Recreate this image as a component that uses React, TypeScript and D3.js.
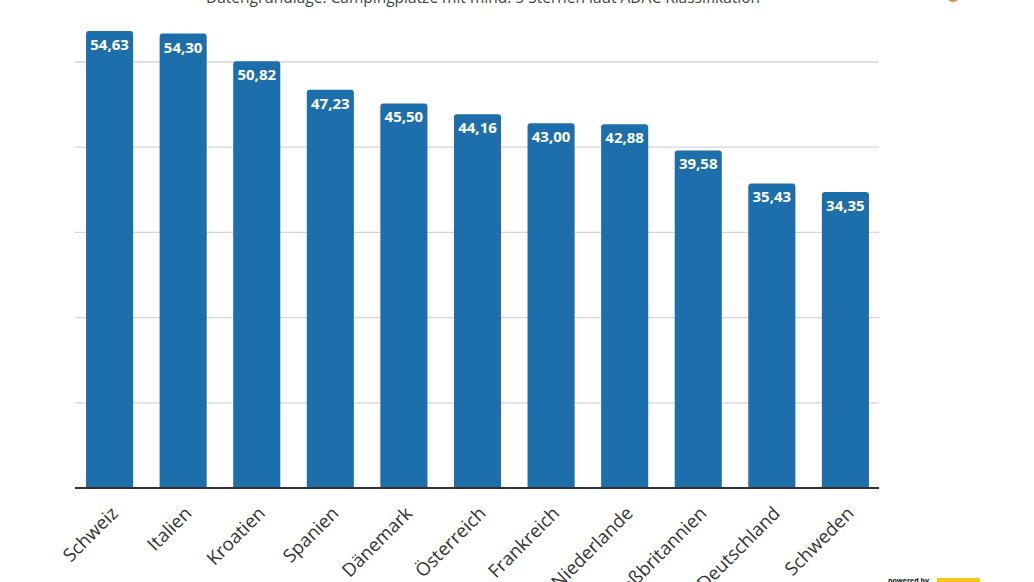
import React from "react";
import * as d3 from "d3";

const categories = ["Schweiz","Italien","Kroatien","Spanien","Dänemark","Österreich","Frankreich","Niederlande","Großbritannien","Deutschland","Schweden"];
const values = [54.63,54.30,50.82,47.23,45.50,44.16,43.00,42.88,39.58,35.43,34.35];
const gridIndex = [0,1,2,3,4,5];
const subtitle = "Datengrundlage: Campingplätze mit mind. 5 Sternen laut ADAC Klassifikation";

const W = 1034, H = 582;
const left = 75, right = 879, baseY = 488;

export default function App() {
  const x = d3.scaleBand<string>().domain(categories).range([left, right + 1]).paddingInner(0.36).paddingOuter(0.15);
  const y = d3.scaleLinear().domain([-2.93, 54.63]).range([baseY, 31]);
  const g = d3.scaleLinear().domain([0, 5]).range([baseY, 62]);
  const r = 3;
  const barPath = (x0: number, w: number, top: number) => {
    const p = d3.path();
    p.moveTo(x0, baseY);
    p.lineTo(x0, top + r);
    p.quadraticCurveTo(x0, top, x0 + r, top);
    p.lineTo(x0 + w - r, top);
    p.quadraticCurveTo(x0 + w, top, x0 + w, top + r);
    p.lineTo(x0 + w, baseY);
    p.closePath();
    return p.toString();
  };
  const fmt = (v: number) => v.toFixed(2).replace(".", ",");
  return (
    <svg width={W} height={H} style={{ position: "absolute", left: 0, top: 0, background: "#fff" }} fontFamily="'Open Sans', sans-serif">
      <text x={483} y={3} textAnchor="middle" fontSize={15.5} fill="#444">{subtitle}</text>
      <circle cx={953} cy={-5} r={7} fill="#e8894a" />
      {gridIndex.slice(1).map((i) => (
        <line key={i} x1={left} x2={right} y1={g(i)} y2={g(i)} stroke="#d6d6d6" strokeWidth={1.3} />
      ))}
      {categories.map((c, i) => {
        const bx = x(c)!;
        const bw = x.bandwidth();
        const top = y(values[i]);
        return (
          <g key={c}>
            <path d={barPath(bx, bw, top)} fill="#1d6fab" />
            <text x={bx + bw / 2} y={top + 19} textAnchor="middle" fontSize={15} fontWeight={700} fill="#fff">{fmt(values[i])}</text>
            <text transform={`translate(${bx + bw / 2 + 6},${baseY + 23}) rotate(-45)`} textAnchor="end" dominantBaseline="middle" fontSize={18.5} fill="#333">{c}</text>
          </g>
        );
      })}
      <line x1={left} x2={right} y1={baseY} y2={baseY} stroke="#333" strokeWidth={2} />
      <text x={888} y={583} fontSize={7} fontWeight={700} fill="#111">powered by</text>
      <rect x={937} y={578} width={43} height={6} fill="#f5c518" />
    </svg>
  );
}
